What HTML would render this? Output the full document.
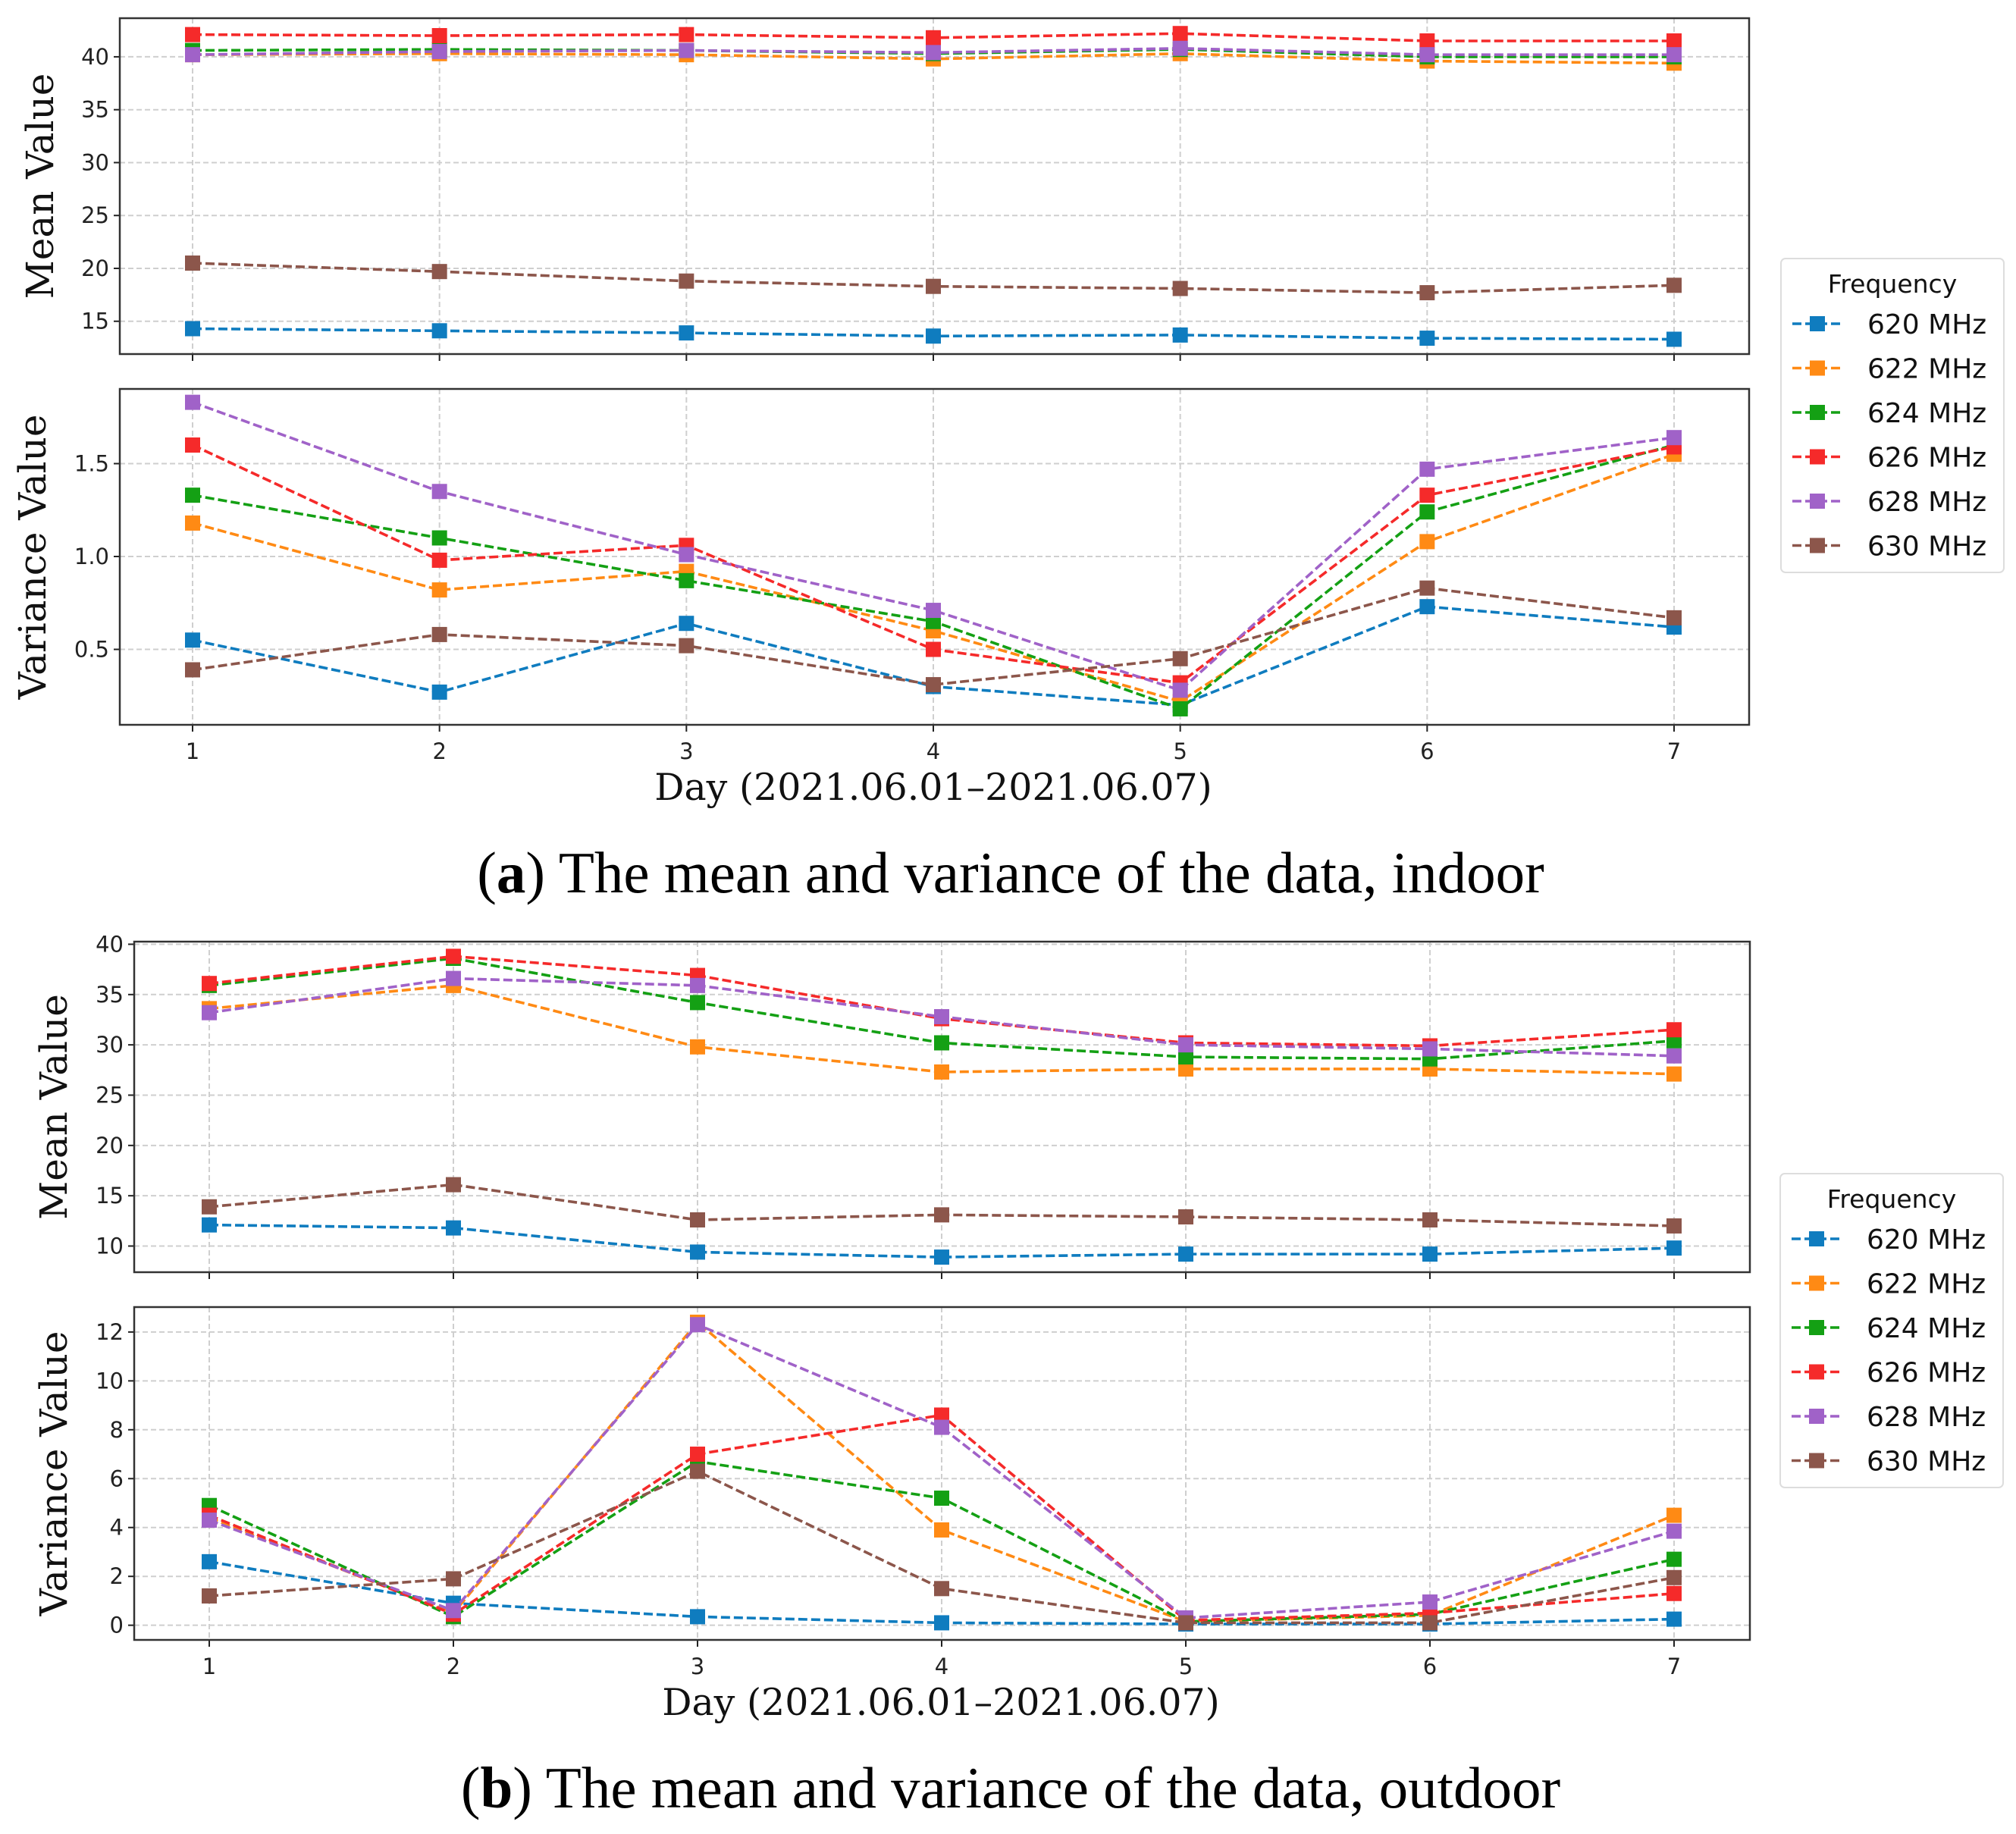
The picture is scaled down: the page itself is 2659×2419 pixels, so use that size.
<!DOCTYPE html>
<html><head><meta charset="utf-8"><style>
html,body{margin:0;padding:0;background:#fff;}
svg{display:block;}
.tick{font-family:"DejaVu Sans","Liberation Sans",sans-serif;font-size:29px;fill:#222;}
.ylab{font-family:"DejaVu Serif","Liberation Serif",serif;font-size:50px;fill:#111;}
.xlab{font-family:"DejaVu Serif","Liberation Serif",serif;font-size:49px;fill:#111;}
.cap{font-family:"Liberation Serif",serif;font-size:77px;fill:#000;}
.leg{font-family:"DejaVu Sans","Liberation Sans",sans-serif;font-size:36px;fill:#111;}
.legt{font-family:"DejaVu Sans","Liberation Sans",sans-serif;font-size:33px;fill:#111;}
</style></head><body>
<svg id="chart" width="2659" height="2419" viewBox="0 0 2659 2419" xmlns="http://www.w3.org/2000/svg"></svg>
<script>
const days = [1,2,3,4,5,6,7];
const seriesNames = ["620 MHz","622 MHz","624 MHz","626 MHz","628 MHz","630 MHz"];
const colors = ["#0f7cbf","#ff8a14","#14a014","#f52a2a","#a062c8","#8c564b"];
const indoorMean620 = [14.3,14.1,13.9,13.6,13.7,13.4,13.3];
const indoorMean622 = [40.2,40.3,40.2,39.8,40.3,39.6,39.4];
const indoorMean624 = [40.6,40.7,40.6,40.3,40.7,40.0,40.0];
const indoorMean626 = [42.1,42.0,42.1,41.8,42.2,41.5,41.5];
const indoorMean628 = [40.2,40.5,40.6,40.4,40.8,40.2,40.2];
const indoorMean630 = [20.5,19.7,18.8,18.3,18.1,17.7,18.4];
const indoorVar620 = [0.55,0.27,0.64,0.30,0.20,0.73,0.62];
const indoorVar622 = [1.18,0.82,0.92,0.60,0.22,1.08,1.55];
const indoorVar624 = [1.33,1.10,0.87,0.65,0.18,1.24,1.60];
const indoorVar626 = [1.60,0.98,1.06,0.50,0.32,1.33,1.59];
const indoorVar628 = [1.83,1.35,1.01,0.71,0.28,1.47,1.64];
const indoorVar630 = [0.39,0.58,0.52,0.31,0.45,0.83,0.67];
const outdoorMean620 = [12.1,11.8,9.4,8.9,9.2,9.2,9.8];
const outdoorMean622 = [33.6,35.9,29.8,27.3,27.6,27.6,27.1];
const outdoorMean624 = [35.9,38.6,34.2,30.2,28.8,28.6,30.4];
const outdoorMean626 = [36.1,38.8,36.9,32.6,30.2,29.9,31.5];
const outdoorMean628 = [33.2,36.6,35.9,32.8,30.0,29.6,28.9];
const outdoorMean630 = [13.9,16.1,12.6,13.1,12.9,12.6,12.0];
const outdoorVar620 = [2.6,0.9,0.35,0.1,0.05,0.05,0.25];
const outdoorVar622 = [4.4,0.5,12.4,3.9,0.15,0.4,4.5];
const outdoorVar624 = [4.9,0.35,6.7,5.2,0.15,0.45,2.7];
const outdoorVar626 = [4.5,0.45,7.0,8.6,0.2,0.5,1.3];
const outdoorVar628 = [4.3,0.6,12.3,8.1,0.3,0.95,3.85];
const outdoorVar630 = [1.2,1.9,6.3,1.5,0.1,0.1,1.95];
const meanTicksA = [15,20,25,30,35,40];
const varTicksA = [0.5,1.0,1.5];
const meanTicksB = [10,15,20,25,30,35,40];
const varTicksB = [0,2,4,6,8,10,12];

const NS="http://www.w3.org/2000/svg";
const svg=document.getElementById('chart');
function mk(tag,attrs,parent){const e=document.createElementNS(NS,tag);for(const k in attrs)e.setAttribute(k,attrs[k]);(parent||svg).appendChild(e);return e;}

function panel(opt){
  const g=mk('g',{});
  
  
  const {x0,x1,y0,y1,ymin,ymax,dayLeft,dayRight}=opt;
  const xs=d=>dayLeft+(d-1)*(dayRight-dayLeft)/6;
  const ys=v=>y1-(v-ymin)/(ymax-ymin)*(y1-y0);
  opt.ticks.forEach(t=>{
    const l=mk('line',{x1:x0,x2:x1,y1:ys(t),y2:ys(t),stroke:'#cfcfcf','stroke-width':2,'stroke-dasharray':'7,4'},g);
    
    
    mk('line',{x1:x0-8,x2:x0,y1:ys(t),y2:ys(t),stroke:'#222','stroke-width':2},g);
    const tx=mk('text',{x:x0-14,y:ys(t)+10,'text-anchor':'end',class:'tick'},g);
    tx.textContent=opt.fmt(t);
    
    
  });
  days.forEach(d=>{
    const l=mk('line',{y1:y0,y2:y1,x1:xs(d),x2:xs(d),stroke:'#cfcfcf','stroke-width':2,'stroke-dasharray':'7,4'},g);
    
    
    mk('line',{y1:y1,y2:y1+9,x1:xs(d),x2:xs(d),stroke:'#222','stroke-width':2},g);
    if(opt.xlabels){
      const tx=mk('text',{x:xs(d),y:y1+45,'text-anchor':'middle',class:'tick'},g);
      tx.textContent=d;
      
      
    }
  });
  opt.series.forEach((vals,i)=>{
    const pts=vals.map((v,j)=>xs(days[j])+','+ys(v)).join(' ');
    const pl=mk('polyline',{points:pts,fill:'none',stroke:colors[i],'stroke-width':3.6,'stroke-dasharray':'12,5'},g);
    
    
    vals.forEach((v,j)=>{
      const r=mk('rect',{x:xs(days[j])-10,y:ys(v)-10,width:20,height:20,fill:colors[i]},g);
      
      
    });
  });
  const fr=mk('rect',{x:x0,y:y0,width:x1-x0,height:y1-y0,fill:'none',stroke:'#333','stroke-width':2.5},g);
  
  
  const yl=mk('text',{x:opt.ylx,y:(y0+y1)/2,'text-anchor':'middle',class:'ylab',transform:`rotate(-90 ${opt.ylx} ${(y0+y1)/2})`},g);
  yl.textContent=opt.ylabel;
  
  
}

function legend(x,y,name){
  const g=mk('g',{});
  
  
  mk('rect',{x:x,y:y,width:294,height:414,rx:6,fill:'#fff',stroke:'#ddd','stroke-width':2},g);
  const t=mk('text',{x:x+147,y:y+45,'text-anchor':'middle',class:'legt'},g);
  t.textContent='Frequency';
  
  
  seriesNames.forEach((s,i)=>{
    const cy=y+86+i*58.5;
    const e=mk('g',{},g);
    
    
    mk('line',{x1:x+15,x2:x+81,y1:cy,y2:cy,stroke:colors[i],'stroke-width':3.6,'stroke-dasharray':'12,5'},e);
    mk('rect',{x:x+38,y:cy-10,width:20,height:20,fill:colors[i]},e);
    const tx=mk('text',{x:x+114,y:cy+13,class:'leg'},e);
    tx.textContent=s;
  });
}

panel({name:'indoor-mean-panel',x0:158,x1:2307,y0:24,y1:467,ymin:11.9,ymax:43.65,dayLeft:254,dayRight:2208,ticks:meanTicksA,fmt:t=>String(t),
  series:[indoorMean620,indoorMean622,indoorMean624,indoorMean626,indoorMean628,indoorMean630],ylabel:'Mean Value',ylx:70,xlabels:false});
panel({name:'indoor-variance-panel',x0:158,x1:2307,y0:513,y1:956,ymin:0.094,ymax:1.902,dayLeft:254,dayRight:2208,ticks:varTicksA,fmt:t=>t.toFixed(1),
  series:[indoorVar620,indoorVar622,indoorVar624,indoorVar626,indoorVar628,indoorVar630],ylabel:'Variance Value',ylx:60,xlabels:true});
panel({name:'outdoor-mean-panel',x0:177,x1:2308,y0:1242,y1:1678,ymin:7.4,ymax:40.26,dayLeft:276,dayRight:2208,ticks:meanTicksB,fmt:t=>String(t),
  series:[outdoorMean620,outdoorMean622,outdoorMean624,outdoorMean626,outdoorMean628,outdoorMean630],ylabel:'Mean Value',ylx:88,xlabels:false});
panel({name:'outdoor-variance-panel',x0:177,x1:2308,y0:1724,y1:2163,ymin:-0.6,ymax:13.02,dayLeft:276,dayRight:2208,ticks:varTicksB,fmt:t=>String(t),
  series:[outdoorVar620,outdoorVar622,outdoorVar624,outdoorVar626,outdoorVar628,outdoorVar630],ylabel:'Variance Value',ylx:88,xlabels:true});

legend(2349,341,'legend-indoor');
legend(2348,1548,'legend-outdoor');

function txt(x,y,cls,s,name){const t=mk('text',{x:x,y:y,'text-anchor':'middle',class:cls});t.innerHTML=s;}
txt(1231,1055,'xlab','Day (2021.06.01–2021.06.07)','x-axis-title-indoor');
txt(1241,2262,'xlab','Day (2021.06.01–2021.06.07)','x-axis-title-outdoor');
txt(1333,1177,'cap','(<tspan font-weight="bold">a</tspan>) The mean and variance of the data, indoor','caption-a');
txt(1333,2384,'cap','(<tspan font-weight="bold">b</tspan>) The mean and variance of the data, outdoor','caption-b');
</script>
</body></html>
